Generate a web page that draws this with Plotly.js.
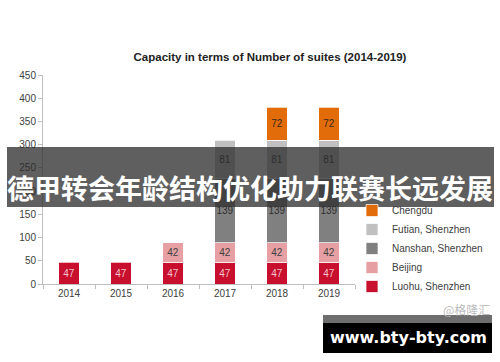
<!DOCTYPE html>
<html>
<head>
<meta charset="utf-8">
<script src="https://cdn.plot.ly/plotly-3.0.1.min.js"></script>
<style>html,body{margin:0;padding:0;background:#fff;}#chart{width:500px;height:362px;}</style>
</head>
<body>
<div id="chart"></div>
<script>
const years = ['2014', '2015', '2016', '2017', '2018', '2019'];
const luohu = [47, 47, 47, 47, 47, 47];
const beijing = [null, null, 42, 42, 42, 42];
const nanshan = [null, null, null, 139, 139, 139];
const futian = [null, null, null, 81, 81, 81];
const chengdu = [null, null, null, null, 72, 72];
const seriesNames = ['Luohu, Shenzhen', 'Beijing', 'Nanshan, Shenzhen', 'Futian, Shenzhen', 'Chengdu'];
const yTicks = [0, 50, 100, 150, 200, 250, 300, 350, 400, 450];

const colors = ['#C8102E', '#E6A0A3', '#808080', '#C0C0C0', '#E36C0A'];
const textColors = ['#F4C3CC', '#404040', '#303030', '#303030', '#3a2a1a'];
const values = [luohu, beijing, nanshan, futian, chengdu];

const traces = values.map((v, i) => ({
  type: 'bar',
  x: years,
  y: v,
  name: seriesNames[i],
  marker: {color: colors[i], line: {color: 'rgba(255,255,255,0.7)', width: 1}},
  text: v.map(d => d == null ? '' : String(d)),
  textposition: 'inside',
  insidetextanchor: 'middle',
  textangle: 0,
  constraintext: 'none',
  textfont: {family: 'Liberation Sans, Arial, sans-serif', size: 10, color: textColors[i]},
  hoverinfo: 'skip'
}));

// page-pixel helpers -> paper coords
const L = 43, R = 355, T = 75, B = 284;
const px = x => (x - L) / (R - L);
const py = y => (B - y) / (B - T);

const layout = {
  width: 500, height: 362,
  margin: {l: L, r: 500 - R, t: T, b: 362 - B, pad: 0, autoexpand: false},
  paper_bgcolor: '#fff', plot_bgcolor: '#fff',
  barmode: 'stack',
  bargap: 0.61,
  showlegend: true,
  title: {
    text: '<b>Capacity in terms of Number of suites (2014-2019)</b>',
    font: {family: 'Liberation Sans, Arial, sans-serif', size: 11.5, color: '#222'},
    x: 0.54, xanchor: 'center', xref: 'container',
    y: 1 - 57 / 362, yanchor: 'middle', yref: 'container'
  },
  xaxis: {
    type: 'category',
    showline: true, linecolor: '#bfbfbf', linewidth: 1,
    ticks: 'outside', ticklen: 4, tickcolor: '#bfbfbf', tickson: 'boundaries',
    tickfont: {family: 'Liberation Sans, Arial, sans-serif', size: 10, color: '#404040'},
    showgrid: false, zeroline: false, fixedrange: true
  },
  yaxis: {
    range: [0, 450],
    tickvals: yTicks,
    showline: true, linecolor: '#bfbfbf', linewidth: 1,
    ticks: 'outside', ticklen: 4, tickcolor: '#bfbfbf',
    tickfont: {family: 'Liberation Sans, Arial, sans-serif', size: 10, color: '#404040'},
    showgrid: false, zeroline: false, fixedrange: true
  },
  legend: {
    traceorder: 'reversed',
    x: px(352), xanchor: 'left', xref: 'paper',
    y: py(196), yanchor: 'top', yref: 'paper',
    font: {family: 'Liberation Sans, Arial, sans-serif', size: 10, color: '#404040'},
    itemwidth: 30, tracegroupgap: 0,
    bgcolor: 'rgba(0,0,0,0)'
  },
  shapes: [
    {type: 'rect', xref: 'paper', yref: 'paper', layer: 'above',
     x0: px(7), x1: px(494), y0: py(147), y1: py(207),
     fillcolor: 'rgba(45,45,45,0.76)', line: {width: 0}},
    {type: 'rect', xref: 'paper', yref: 'paper', layer: 'above',
     x0: px(323), x1: px(492), y0: py(315), y1: py(323),
     fillcolor: '#6e6e6e', line: {width: 0}},
    {type: 'rect', xref: 'paper', yref: 'paper', layer: 'above',
     x0: px(323), x1: px(492), y0: py(323), y1: py(353),
     fillcolor: '#000000', line: {width: 0}}
  ],
  annotations: [
    {text: '<b>德甲转会年龄结构优化助力联赛长远发展</b>', xref: 'paper', yref: 'paper',
     x: px(250), y: py(187), xanchor: 'center', yanchor: 'middle', showarrow: false,
     font: {family: 'Noto Sans CJK SC, sans-serif', size: 27, color: '#ffffff'}},
    {text: '@格隆汇', xref: 'paper', yref: 'paper',
     x: px(466), y: py(309), xanchor: 'center', yanchor: 'middle', showarrow: false,
     font: {family: 'Noto Sans CJK SC, sans-serif', size: 12, color: '#bdbdbd'}},
    {text: '<b>www.bty-bty.com</b>', xref: 'paper', yref: 'paper',
     x: px(408), y: py(337), xanchor: 'center', yanchor: 'middle', showarrow: false,
     font: {family: 'DejaVu Sans, sans-serif', size: 16, color: '#ffffff'}}
  ]
};

Plotly.newPlot('chart', traces, layout, {staticPlot: true, displayModeBar: false});
</script>
</body>
</html>
